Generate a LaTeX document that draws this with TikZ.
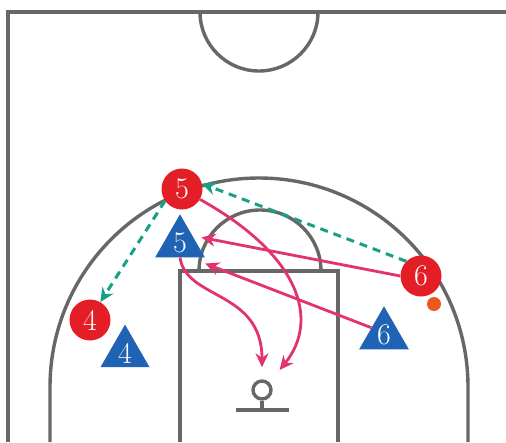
\documentclass[tikz,border=0pt]{standalone}
\usepackage{xcolor}
\usepackage{tikz}
\usetikzlibrary{arrows.meta, shapes.geometric}
\definecolor{CourtGray}{HTML}{676767}
\definecolor{PlayRed}{HTML}{E31E26}
\definecolor{PlayBlue}{HTML}{1F63B5}
\definecolor{CutPink}{HTML}{E3336F}
\definecolor{PassTeal}{HTML}{17A085}
\definecolor{BallOrange}{HTML}{EA5A1E}

\begin{document}
\begin{tikzpicture}[x=1pt, y=-1pt, >=Stealth,
        court/.style={draw=CourtGray, line width=3.4pt},
        offense/.style={circle, fill=PlayRed, text=white, minimum size=41pt, inner sep=0pt, font=\fontsize{30}{30}\selectfont},
        defense/.style={regular polygon, regular polygon sides=3, fill=PlayBlue, text=white, minimum size=56pt, inner sep=0pt, font=\fontsize{30}{30}\selectfont},
        pass/.style={draw=PassTeal, line width=3pt, dash pattern=on 8pt off 6pt, -{Stealth[length=14pt, width=13pt]}},
        cut/.style={draw=CutPink, line width=2.8pt, -{Stealth[length=14pt, width=13pt]}}]
        \fill[white] (0,0) rectangle (506,442);
        \useasboundingbox (0,0) rectangle (506,442);

        % Court
        \draw[court, line width=4.5pt] (506,12) -- (8,12) -- (8,442);
        \draw[court] (200,12) arc[start angle=180, end angle=0, radius=59];
        \draw[court] (50,442) -- (50,387) arc[start angle=180, end angle=360, radius=209] -- (468,442);
        \draw[court] (180,442) -- (180,271) -- (338,271) -- (338,442);
        \draw[court] (199,271) arc[start angle=180, end angle=360, radius=61];
        \node[court, circle, minimum size=18pt, inner sep=0pt] (Bk) at (262,390) {};
        \draw[court] (Bk.south) -- (262,410);
        \draw[court, line width=4.5pt] (236,410) -- (289,410);

        % Players
        \node[offense] (R5) at (182,189) {5};
        \node[offense] (R4) at (90,320) {4};
        \node[offense] (R6) at (421,276) {6};
        \node[defense] (T5) at (180,243) {5};
        \node[defense] (T4) at (125,353) {4};
        \node[defense] (T6) at (384,335) {6};
        \node[circle, fill=BallOrange, minimum size=14pt, inner sep=0pt] (ball) at (434,304) {};

        % Passes
        \draw[pass] (R6.135) -- (R5.15);
        \draw[pass] (R5.215) -- (R4.60);

        % Cuts
        \draw[cut, shorten >=9pt] (R6.west) -- (T5.side 3);
        \draw[cut] (T6.side 1) -- ([yshift=-6pt]T5.corner 3);
        \draw[cut, shorten >=16pt] (R5.-30) .. controls (300,255) and (320,320) .. (Bk.north east);
        \draw[cut, shorten >=12pt] (T5.side 2) .. controls (186,300) and (262,290) .. (Bk.north);
\end{tikzpicture}
\end{document}
